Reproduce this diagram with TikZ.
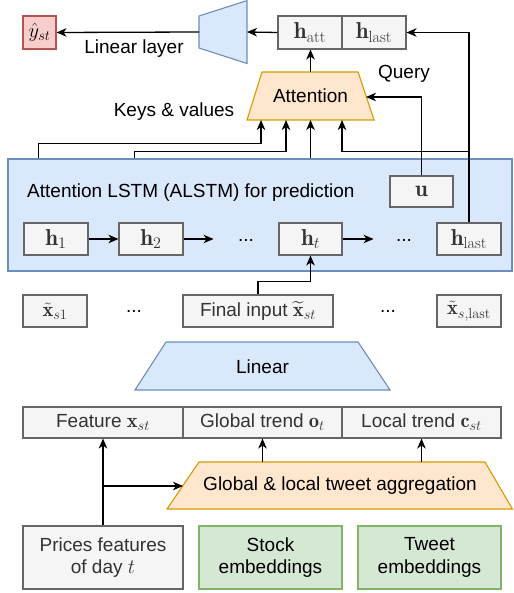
\RequirePackage{fix-cm}
\documentclass[tikz,border=0pt]{standalone}
\usepackage{amsmath}
\usepackage{fontspec}
\newfontfamily\lsans{Liberation Sans}
\usetikzlibrary{arrows.meta}
\definecolor{grayfill}{HTML}{F5F5F5}
\definecolor{graydraw}{HTML}{666666}
\definecolor{graytext}{HTML}{333333}
\definecolor{bluefill}{HTML}{DAE8FC}
\definecolor{bluedraw}{HTML}{6C8EBF}
\definecolor{orfill}{HTML}{FFE6CC}
\definecolor{ordraw}{HTML}{D79B00}
\definecolor{grfill}{HTML}{D5E8D4}
\definecolor{grdraw}{HTML}{82B366}
\definecolor{redfill}{HTML}{F8CECC}
\definecolor{reddraw}{HTML}{B85450}
\newcommand\txt{\fontsize{19}{22.5}\selectfont\lsans}
\newcommand\mth{\fontsize{23}{26}\selectfont}
\newcommand\mmx{\fontsize{20.5}{24}\selectfont}
\tikzset{
  base/.style={line width=1.1pt, inner sep=0pt, font=\txt, align=center},
  graybox/.style={base, draw=graydraw, fill=grayfill, text=graytext},
  bluebox/.style={base, draw=bluedraw, fill=bluefill},
  orbox/.style={base, draw=ordraw, fill=orfill},
  greenbox/.style={base, draw=grdraw, fill=grfill},
  redbox/.style={base, draw=reddraw, fill=redfill},
  lbl/.style={font=\txt, inner sep=0pt},
  arr/.style={-{Stealth[length=10pt,width=8.5pt,inset=3pt]}, line width=1.3pt}
}
\begin{document}
\begin{tikzpicture}[x=1pt,y=-1pt]
\useasboundingbox (0,0) rectangle (513,593);

% ALSTM container
\node[bluebox, minimum width=504pt, minimum height=112pt] (alstm) at (260,215) {};
\node[lbl, anchor=west] (title) at (27,193) {Attention LSTM (ALSTM) for prediction};

% top row
\node[redbox, minimum width=33pt, minimum height=33pt, font=\mmx] (yhat) at (39.5,32.5) {$\hat{y}_{st}$};
\draw[bluebox] (199,16) -- (247,0.6) -- (247,63.5) -- (199,48) -- cycle;
\coordinate (linl) at (199,32);
\coordinate (linr) at (247,32);
\node[graybox, minimum width=64pt, minimum height=33pt, font=\mth] (hatt) at (310,32.5) {$\mathbf{h}_{\mathrm{att}}$};
\node[graybox, minimum width=64pt, minimum height=33pt, font=\mth] (hlast) at (374,32.5) {$\mathbf{h}_{\mathrm{last}}$};
\node[lbl] (linlbl) at (134,49) {Linear layer};

% attention
\draw[orbox] (247,120) -- (262,72) -- (358,72) -- (374,120) -- cycle;
\node[lbl] (att) at (310.5,96) {Attention};
\coordinate (attn) at (310.5,72);
\coordinate (atts) at (310.5,120);
\coordinate (attr) at (366,97);
\node[lbl] (query) at (404,74) {Query};
\node[lbl] (keys) at (174,112) {Keys \& values};

% hidden states
\node[graybox, minimum width=63pt, minimum height=31pt, font=\mth] (u) at (421.5,191.5) {$\mathbf{u}$};
\node[graybox, minimum width=64pt, minimum height=32pt, font=\mth] (h1) at (56,239) {$\mathbf{h}_1$};
\node[graybox, minimum width=64pt, minimum height=32pt, font=\mth] (h2) at (151,239) {$\mathbf{h}_2$};
\node[lbl] (d1) at (246,240) {...};
\node[graybox, minimum width=63pt, minimum height=32pt, font=\mth] (ht) at (310.5,239) {$\mathbf{h}_t$};
\node[lbl] (d2) at (404,240) {...};
\node[graybox, minimum width=64pt, minimum height=32pt, font=\mth] (hl) at (469,239) {$\mathbf{h}_{\mathrm{last}}$};

% inputs
\node[graybox, minimum width=64pt, minimum height=32pt, font=\mmx] (xs1) at (55,311) {$\tilde{\mathbf{x}}_{s1}$};
\node[lbl] (d3) at (134,311) {...};
\node[graybox, minimum width=150pt, minimum height=32pt] (fin) at (258,311) {Final input {\mmx$\widetilde{\mathbf{x}}_{st}$}};
\node[lbl] (d4) at (388,311) {...};
\node[graybox, minimum width=64pt, minimum height=32pt, font=\mmx] (xsl) at (469,311) {$\tilde{\mathbf{x}}_{s,\mathrm{last}}$};

\draw[bluebox] (135,390) -- (166,342) -- (358,342) -- (390,390) -- cycle;
\node[lbl] (lin) at (262.5,367) {Linear};

% features
\node[graybox, minimum width=160pt, minimum height=31pt] (feat) at (103,422.5) {Feature {\mmx$\mathbf{x}_{st}$}};
\node[graybox, minimum width=159pt, minimum height=31pt] (glob) at (262.5,422.5) {Global trend {\mmx$\mathbf{o}_t$}};
\node[graybox, minimum width=159pt, minimum height=31pt] (loc) at (421.5,422.5) {Local trend {\mmx$\mathbf{c}_{st}$}};

\draw[orbox] (167,509) -- (199,462) -- (485,462) -- (512.4,509) -- cycle;
\node[lbl] (agg) at (340,486) {Global \& local tweet aggregation};
\coordinate (aggl) at (183,486);

\node[graybox, minimum width=160pt, minimum height=63pt] (price) at (103,557.5) {Prices features\\of day {\mmx$t$}};
\node[greenbox, minimum width=143pt, minimum height=63pt] (stock) at (270.5,557.5) {Stock\\embeddings};
\node[greenbox, minimum width=143pt, minimum height=63pt] (tweet) at (429.5,557.5) {Tweet\\embeddings};

% connectors
\draw[arr] (linl) -- (yhat.east);
\draw[arr] (hatt.west) -- (linr);
\draw[arr] (attn) -- (attn |- hatt.south);
\draw[arr] (hl.north) |- (hlast.east);
\draw[arr] (u.north) |- (attr);
\draw[arr] ([xshift=31pt]alstm.north west) -- ++(0,-15) -| ([xshift=-49.5pt]atts);
\draw[arr] ([xshift=127pt]alstm.north west) -- ++(0,-7) -| ([xshift=-24.5pt]atts);
\draw[arr] (atts |- alstm.north) -- (atts);
\draw[arr] ([yshift=71pt]hl.north) -| ([xshift=31.5pt]atts);
\draw[arr, line width=2pt] (h1.east) -- (h2.west);
\draw[arr] (h2.east) -- ++(30,0);
\draw[arr] (ht.east) -- ++(31,0);
\draw[arr] (fin.north) -- ++(0,-13) -| (ht.south);
\draw[arr] (price.north) -- (feat.south);
\draw[arr] (price.north |- aggl) -- (aggl);
\draw[arr] (glob.south |- 0,462) -- (glob.south);
\draw[arr] (loc.south |- 0,462) -- (loc.south);
\end{tikzpicture}
\end{document}
